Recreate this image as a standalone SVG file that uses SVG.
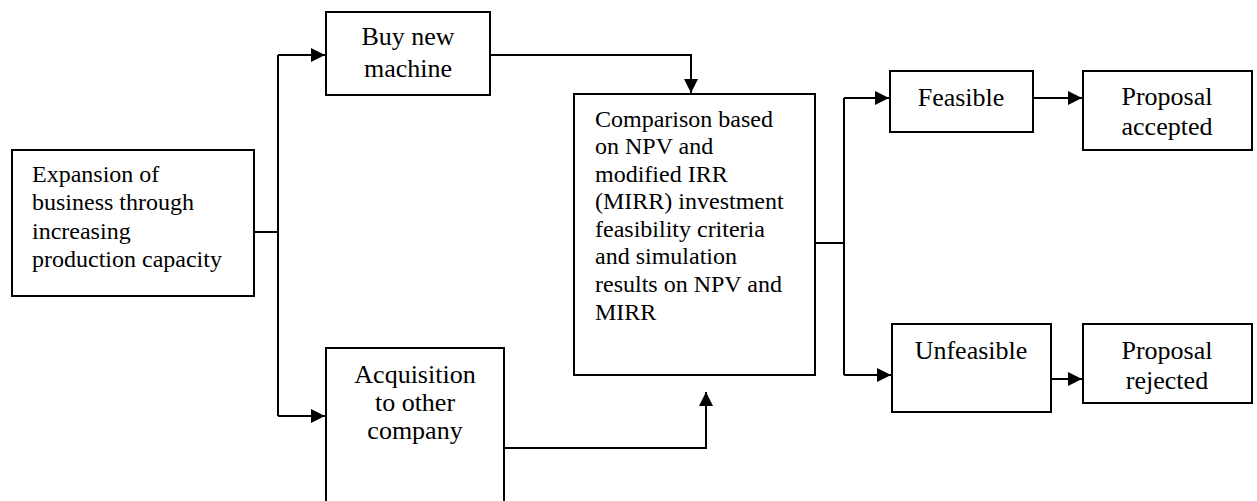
<svg xmlns="http://www.w3.org/2000/svg" width="1257" height="501" viewBox="0 0 1257 501">
  <style>
    .box { fill: #fff; stroke: #000; stroke-width: 2; }
    .line { fill: none; stroke: #000; stroke-width: 2; }
    text { font-family: "Liberation Serif", "Times New Roman", serif; fill: #000; }
    .t24 { font-size: 24px; }
    .t26 { font-size: 26px; text-anchor: middle; }
  </style>
  <defs>
    <marker id="arrow" viewBox="0 0 10 10" refX="10" refY="5" markerWidth="7" markerHeight="7" markerUnits="strokeWidth" orient="auto">
      <path d="M0,0 L10,5 L0,10 Z" fill="#000"/>
    </marker>
  </defs>
  <rect width="1257" height="501" fill="#fff"/>

  <g id="connectors">
    <!-- split from the expansion box -->
    <polyline class="line" points="254,232 278,232"/>
    <polyline class="line" points="278,55 278,416"/>
    <polyline class="line" points="278,55 325,55" marker-end="url(#arrow)"/>
    <polyline class="line" points="278,416 325,416" marker-end="url(#arrow)"/>
    <!-- alternatives into the comparison -->
    <polyline class="line" points="490,55 691,55 691,93" marker-end="url(#arrow)"/>
    <polyline class="line" points="504,448 706,448 706,392" marker-end="url(#arrow)"/>
    <!-- split from the comparison -->
    <polyline class="line" points="815,243 844,243"/>
    <polyline class="line" points="844,98 844,375"/>
    <polyline class="line" points="844,98 889,98" marker-end="url(#arrow)"/>
    <polyline class="line" points="844,375 891,375" marker-end="url(#arrow)"/>
    <!-- outcomes -->
    <polyline class="line" points="1033,98 1082,98" marker-end="url(#arrow)"/>
    <polyline class="line" points="1051,379 1082,379" marker-end="url(#arrow)"/>
  </g>

  <g id="expansion">
    <rect class="box" x="12" y="150" width="242" height="146"/>
    <text class="t24" x="32" y="182">Expansion of</text>
    <text class="t24" x="32" y="210">business through</text>
    <text class="t24" x="32" y="239">increasing</text>
    <text class="t24" x="32" y="267">production capacity</text>
  </g>

  <g id="buy-machine">
    <rect class="box" x="326" y="12" width="164" height="83"/>
    <text class="t26" x="408" y="45">Buy new</text>
    <text class="t26" x="408" y="77">machine</text>
  </g>

  <g id="acquisition">
    <rect class="box" x="326" y="348" width="178" height="170"/>
    <text class="t26" x="415" y="383">Acquisition</text>
    <text class="t26" x="415" y="411">to other</text>
    <text class="t26" x="415" y="439">company</text>
  </g>

  <g id="comparison">
    <rect class="box" x="574" y="94" width="241" height="281"/>
    <text class="t24" x="595" y="127">Comparison based</text>
    <text class="t24" x="595" y="154">on NPV and</text>
    <text class="t24" x="595" y="182">modified IRR</text>
    <text class="t24" x="595" y="209">(MIRR) investment</text>
    <text class="t24" x="595" y="237">feasibility criteria</text>
    <text class="t24" x="595" y="264">and simulation</text>
    <text class="t24" x="595" y="292">results on NPV and</text>
    <text class="t24" x="595" y="320">MIRR</text>
  </g>

  <g id="feasible">
    <rect class="box" x="890" y="71" width="143" height="61"/>
    <text class="t26" x="961" y="106">Feasible</text>
  </g>

  <g id="unfeasible">
    <rect class="box" x="892" y="324" width="159" height="88"/>
    <text class="t26" x="971" y="359">Unfeasible</text>
  </g>

  <g id="accepted">
    <rect class="box" x="1083" y="71" width="169" height="79"/>
    <text class="t26" x="1167" y="105">Proposal</text>
    <text class="t26" x="1167" y="135">accepted</text>
  </g>

  <g id="rejected">
    <rect class="box" x="1083" y="324" width="169" height="79"/>
    <text class="t26" x="1167" y="359">Proposal</text>
    <text class="t26" x="1167" y="389">rejected</text>
  </g>
</svg>
